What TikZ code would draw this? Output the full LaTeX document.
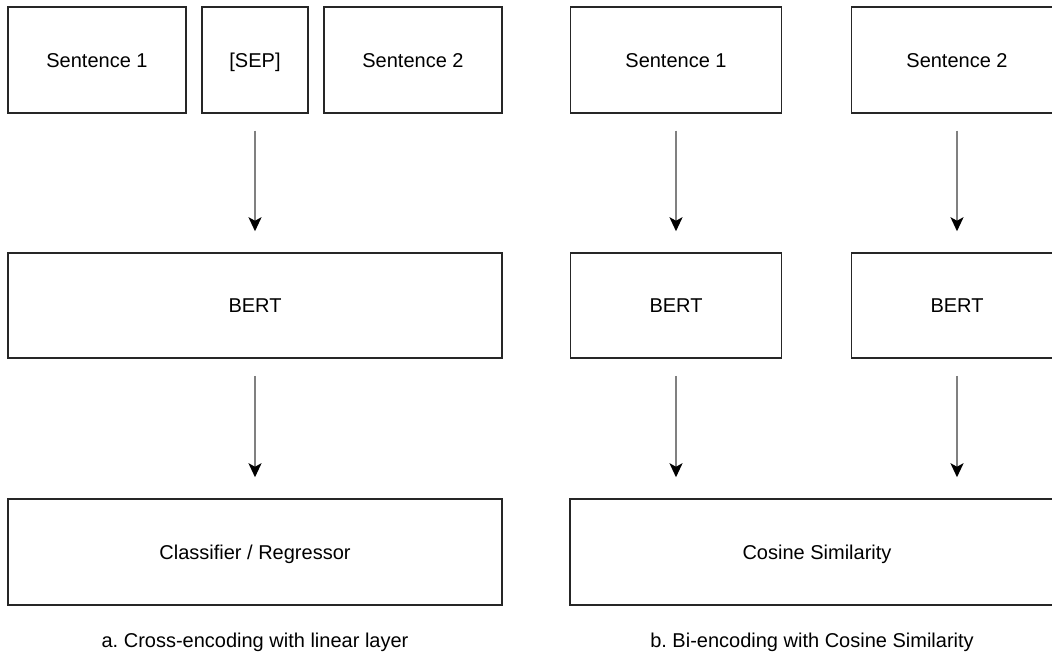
\documentclass[tikz,border=0pt]{standalone}
\usepackage{fontspec}
\setmainfont{Liberation Sans}
\usetikzlibrary{arrows.meta}
\def\px{0.75pt}
\frenchspacing
\begin{document}
\begin{tikzpicture}[x=0.75pt,y=-0.75pt,
  font=\fontsize{15}{18}\selectfont,
  box/.style={draw=black!85,line width=1.5*\px,inner sep=0pt,minimum height=106*\px,
    text height=10.7pt,text depth=0pt},
  flow/.style={draw=black!50,line width=2*\px,-{Stealth[length=14*\px,width=13*\px,inset=3.5*\px,black]},
    shorten <=17*\px,shorten >=21*\px}]
\clip (0,0) rectangle (1052,659);
\fill[white] (0,0) rectangle (1052,659);
%
\node[box,minimum width=178*\px](s1a) at (97,60) {Sentence 1};
\node[box,minimum width=106*\px](sep) at (255,60) {[SEP]};
\node[box,minimum width=178*\px](s2a) at (413,60) {Sentence 2};
%
\node[box,minimum width=494*\px,minimum height=105*\px](berta) at (255,305.5) {BERT};
\draw[flow](sep) -- (berta);
%
\node[box,minimum width=494*\px](clf) at (255,552) {Classifier / Regressor};
\draw[flow](berta) -- (clf);
%
\node(capa) at (255,642) {a. Cross-encoding with linear layer};
%
\node[box,minimum width=211*\px](s1b) at (676,60) {Sentence 1};
\node[box,minimum width=211*\px](s2b) at (957,60) {Sentence 2};
%
\node[box,minimum width=211*\px,minimum height=105*\px](bertb) at (676,305.5) {BERT};
\node[box,minimum width=211*\px,minimum height=105*\px](bertc) at (957,305.5) {BERT};
\draw[flow](s1b) -- (bertb);
\draw[flow](s2b) -- (bertc);
%
\node[box,minimum width=494*\px](cos) at (817,552) {Cosine Similarity};
\draw[flow](bertb) -- (bertb |- cos.north);
\draw[flow](bertc) -- (bertc |- cos.north);
%
\node(capb) at (812,642) {b. Bi-encoding with Cosine Similarity};
\end{tikzpicture}
\end{document}
